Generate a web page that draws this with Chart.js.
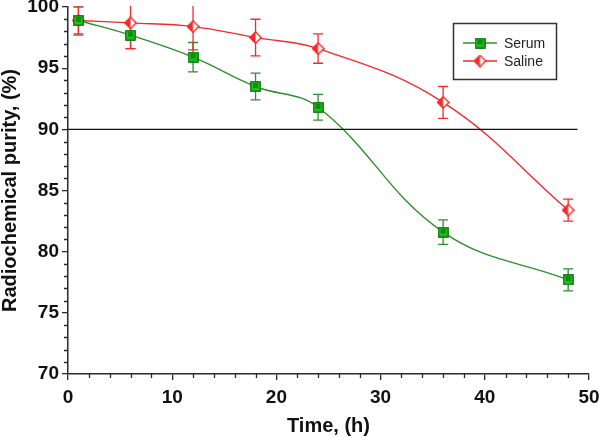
<!DOCTYPE html>
<html>
<head>
<meta charset="utf-8">
<script src="https://cdn.jsdelivr.net/npm/chart.js@4.4.0/dist/chart.umd.min.js"></script>
<style>
  html, body { margin: 0; padding: 0; background: #fff; }
  canvas { display: block; }
</style>
</head>
<body>
<canvas id="chart" width="600" height="437"></canvas>
<script>
// data
const times = [1, 6, 12, 18, 24, 36, 48];
const serum = [98.9, 97.7, 95.9, 93.5, 91.8, 81.6, 77.7];
const serumErr = [1.1, 1.1, 1.2, 1.1, 1.05, 1.0, 0.9];
const saline = [98.9, 98.7, 98.4, 97.5, 96.6, 92.2, 83.4];
const salineErr = [1.2, 2.1, 1.9, 1.5, 1.2, 1.3, 0.9];
const limitX = [0, 48.9];
const limitY = 90;

const GREEN = '#2f8f2f';
const RED = '#f52a2a';
const AXIS = '#2a2a2a';

// marker images
function squareMarker() {
    const c = document.createElement('canvas');
    c.width = 11; c.height = 11;
    const g = c.getContext('2d');
    g.fillStyle = '#1fc21f';
    g.fillRect(0.5, 0.5, 10, 10);
    g.fillStyle = '#0a8f0a';
    g.fillRect(3, 2, 5, 5);
    g.strokeStyle = '#0b6e0b';
    g.lineWidth = 1.2;
    g.strokeRect(0.8, 0.8, 9.4, 9.4);
    return c;
}
function diamondMarker() {
    const c = document.createElement('canvas');
    c.width = 13; c.height = 13;
    const g = c.getContext('2d');
    g.beginPath();
    g.moveTo(6.5, 0.8); g.lineTo(12.2, 6.5); g.lineTo(6.5, 12.2); g.lineTo(0.8, 6.5); g.closePath();
    g.fillStyle = '#fff';
    g.fill();
    g.beginPath();
    g.moveTo(6.5, 0.8); g.lineTo(6.5, 12.2); g.lineTo(0.8, 6.5); g.closePath();
    g.fillStyle = RED;
    g.fill();
    g.beginPath();
    g.moveTo(6.5, 0.8); g.lineTo(12.2, 6.5); g.lineTo(6.5, 12.2); g.lineTo(0.8, 6.5); g.closePath();
    g.strokeStyle = RED;
    g.lineWidth = 1.4;
    g.stroke();
    return c;
}
const sq = squareMarker();
const dia = diamondMarker();

const toPoints = (xs, ys) => xs.map((x, i) => ({ x: x, y: ys[i] }));

const errorBars = {
    id: 'errorBars',
    beforeDatasetsDraw(chart) {
        const { ctx, chartArea, scales: { x, y } } = chart;
        ctx.save();
        ctx.beginPath();
        ctx.rect(chartArea.left, chartArea.top - 1, chartArea.width, chartArea.height);
        ctx.clip();
        [[serum, serumErr, GREEN], [saline, salineErr, RED]].forEach(([vals, errs, col]) => {
            ctx.strokeStyle = col;
            ctx.lineWidth = 1.3;
            times.forEach((t, i) => {
                const px = x.getPixelForValue(t);
                const top = y.getPixelForValue(vals[i] + errs[i]);
                const bot = y.getPixelForValue(vals[i] - errs[i]);
                ctx.beginPath();
                ctx.moveTo(px, top); ctx.lineTo(px, bot);
                ctx.moveTo(px - 5, top); ctx.lineTo(px + 5, top);
                ctx.moveTo(px - 5, bot); ctx.lineTo(px + 5, bot);
                ctx.stroke();
            });
        });
        ctx.restore();
    }
};

const minorTicks = {
    id: 'minorTicks',
    afterDraw(chart) {
        const { ctx, chartArea, scales: { x, y } } = chart;
        ctx.save();
        ctx.strokeStyle = AXIS;
        ctx.lineWidth = 1.3;
        ctx.beginPath();
        for (let v = 0; v <= 50; v += 2) {
            if (v % 10 === 0) continue;
            const px = Math.round(x.getPixelForValue(v)) + 0.5;
            ctx.moveTo(px, chartArea.bottom); ctx.lineTo(px, chartArea.bottom + 4);
        }
        for (let v = 70; v <= 100; v += 1) {
            if (v % 5 === 0) continue;
            const py = Math.round(y.getPixelForValue(v)) + 0.5;
            ctx.moveTo(chartArea.left, py); ctx.lineTo(chartArea.left - 4, py);
        }
        ctx.stroke();
        ctx.restore();
    }
};

const boxLegend = {
    id: 'boxLegend',
    afterDraw(chart) {
        const ctx = chart.ctx;
        ctx.save();
        ctx.strokeStyle = '#333';
        ctx.lineWidth = 1.5;
        ctx.strokeRect(453.5, 23.5, 103, 56);
        ctx.font = '14px "Liberation Sans", Arial, sans-serif';
        ctx.textBaseline = 'middle';
        ctx.fillStyle = '#222';
        [['Serum', GREEN, sq, 43], ['Saline', RED, dia, 61]].forEach(([label, col, img, yy]) => {
            ctx.strokeStyle = col;
            ctx.lineWidth = 1.4;
            ctx.beginPath();
            ctx.moveTo(463, yy); ctx.lineTo(497, yy);
            ctx.stroke();
            ctx.drawImage(img, 480 - img.width / 2, yy - img.height / 2);
            ctx.fillText(label, 504, yy + 1);
        });
        ctx.restore();
    }
};

const tickFont = { family: '"Liberation Sans", Arial, sans-serif', size: 19, weight: 'bold' };
const titleFont = { family: '"Liberation Sans", Arial, sans-serif', size: 20, weight: 'bold', lineHeight: 1 };

new Chart(document.getElementById('chart'), {
    type: 'line',
    data: {
        datasets: [
            {
                label: 'limit',
                data: toPoints(limitX, [limitY, limitY]),
                borderColor: '#111',
                borderWidth: 1.3,
                pointRadius: 0,
                tension: 0
            },
            {
                label: 'Serum',
                data: toPoints(times, serum),
                borderColor: GREEN,
                borderWidth: 1.4,
                pointStyle: sq,
                tension: 0.4
            },
            {
                label: 'Saline',
                data: toPoints(times, saline),
                borderColor: RED,
                borderWidth: 1.4,
                pointStyle: dia,
                tension: 0.4
            }
        ]
    },
    options: {
        responsive: false,
        animation: false,
        devicePixelRatio: 1,
        layout: { padding: { top: 7, right: 11, left: 0, bottom: 0 } },
        plugins: { legend: { display: false }, tooltip: { enabled: false } },
        scales: {
            x: {
                type: 'linear',
                min: 0, max: 50,
                ticks: { stepSize: 10, color: '#111', font: tickFont, padding: 6, maxRotation: 0 },
                grid: { drawOnChartArea: false, drawTicks: true, tickLength: 6, color: AXIS, lineWidth: 1.3 },
                border: { color: AXIS, width: 1.5 },
                title: { display: true, text: 'Time, (h)', color: '#111', font: titleFont, padding: { top: 0, bottom: 1 } },
                afterFit(s) { s.height = 63; s.paddingLeft = 0; s.paddingRight = 0; }
            },
            y: {
                min: 70, max: 100,
                ticks: { stepSize: 5, color: '#111', font: tickFont, padding: 3 },
                grid: { drawOnChartArea: false, drawTicks: true, tickLength: 6, color: AXIS, lineWidth: 1.3 },
                border: { color: AXIS, width: 1.5 },
                title: { display: true, text: 'Radiochemical purity, (%)', color: '#111', font: titleFont, padding: { top: 0, bottom: 0 } },
                afterFit(s) { s.width = 68; s.paddingTop = 0; s.paddingBottom = 0; }
            }
        }
    },
    plugins: [errorBars, minorTicks, boxLegend]
});
</script>
</body>
</html>
